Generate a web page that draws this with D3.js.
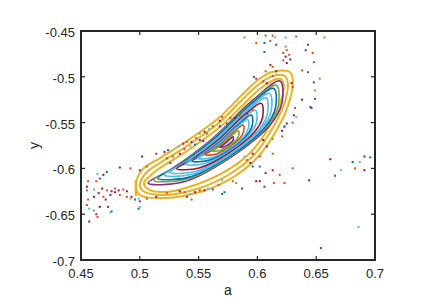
<!DOCTYPE html>
<html>
<head>
<meta charset="utf-8">
<script src="https://cdn.jsdelivr.net/npm/d3@7"></script>
<style>
  body { margin: 0; background: #fff; }
  svg { display: block; }
  text { font-family: "Liberation Sans", Arial, sans-serif; fill: #262626; }
</style>
</head>
<body>
<svg id="chart" width="436" height="308"></svg>
<script>
// axis ticks
const xTicks = [0.45, 0.5, 0.55, 0.6, 0.65, 0.7];
const yTicks = [-0.7, -0.65, -0.6, -0.55, -0.5, -0.45];

// MATLAB default colour order
const palette = {
  b: "#0072BD", o: "#D95319", y: "#EDB120", p: "#7E2F8E",
  g: "#77AC30", c: "#4DBEEE", r: "#A2142F"
};

// outer (yellow) orbit band
const yellowOuter = [[0.4967,-0.6192],[0.5001,-0.6290],[0.5214,-0.6323],[0.5511,-0.6258],[0.5783,-0.6105],[0.5996,-0.5887],[0.6149,-0.5614],[0.6259,-0.5319],[0.6302,-0.5057],[0.6276,-0.4948],[0.6123,-0.4948],[0.6004,-0.5035],[0.5851,-0.5221],[0.5681,-0.5439],[0.5401,-0.5701],[0.5171,-0.5887],[0.5018,-0.6017]];
const yellowMid = [[0.5001,-0.6181],[0.5027,-0.6247],[0.5214,-0.6290],[0.5511,-0.6214],[0.5766,-0.6061],[0.5970,-0.5854],[0.6115,-0.5592],[0.6225,-0.5308],[0.6259,-0.5079],[0.6234,-0.4991],[0.6132,-0.4991],[0.6004,-0.5090],[0.5851,-0.5275],[0.5681,-0.5494],[0.5401,-0.5756],[0.5171,-0.5941],[0.5052,-0.6050]];
const yellowInner = [[0.5035,-0.6159],[0.5069,-0.6225],[0.5222,-0.6258],[0.5494,-0.6170],[0.5749,-0.6017],[0.5945,-0.5821],[0.6089,-0.5570],[0.6191,-0.5297],[0.6225,-0.5100],[0.6199,-0.5024],[0.6140,-0.5035],[0.6021,-0.5133],[0.5868,-0.5319],[0.5681,-0.5548],[0.5401,-0.5810],[0.5171,-0.5996],[0.5086,-0.6083]];
const yellowBar = [[0.4967,-0.6127],[0.4967,-0.6302]];

// nested regular orbits, outside to inside
const ringPurple = [[0.507,-0.616],[0.5368,-0.6149],[0.575,-0.5898],[0.6107,-0.5526],[0.6209,-0.5286],[0.6192,-0.5046],[0.5963,-0.5253],[0.5623,-0.5668],[0.5283,-0.5996]];
const ringGreen = [[0.5118,-0.6129],[0.5394,-0.6119],[0.575,-0.5886],[0.6082,-0.554],[0.6177,-0.5317],[0.6161,-0.5093],[0.5948,-0.5286],[0.5631,-0.5672],[0.5315,-0.5977]];
const ringBlue = [[0.5152,-0.6108],[0.5413,-0.6098],[0.575,-0.5877],[0.6064,-0.555],[0.6154,-0.5338],[0.6139,-0.5127],[0.5937,-0.5309],[0.5637,-0.5675],[0.5338,-0.5963]];
const ringCyan1 = [[0.5206,-0.6073],[0.5444,-0.6064],[0.575,-0.5863],[0.6036,-0.5565],[0.6117,-0.5373],[0.6104,-0.5181],[0.592,-0.5347],[0.5648,-0.5679],[0.5376,-0.5941]];
const ringCyan2 = [[0.5254,-0.6042],[0.547,-0.6034],[0.575,-0.5851],[0.6011,-0.5579],[0.6085,-0.5404],[0.6073,-0.5229],[0.5905,-0.538],[0.5657,-0.5683],[0.5408,-0.5922]];
const ringRed = [[0.5315,-0.6003],[0.5505,-0.5996],[0.575,-0.5835],[0.5978,-0.5597],[0.6044,-0.5443],[0.6033,-0.529],[0.5886,-0.5422],[0.5668,-0.5688],[0.545,-0.5898]];
const ringCyan3 = [[0.539,-0.5955],[0.5547,-0.5949],[0.575,-0.5816],[0.5939,-0.5619],[0.5993,-0.5491],[0.5984,-0.5364],[0.5863,-0.5474],[0.5682,-0.5694],[0.5502,-0.5868]];
const ringBlue2 = [[0.5444,-0.592],[0.5578,-0.5915],[0.575,-0.5802],[0.5911,-0.5634],[0.5957,-0.5526],[0.5949,-0.5418],[0.5846,-0.5511],[0.5692,-0.5698],[0.5539,-0.5846]];
const ringCyan4 = [[0.5492,-0.5889],[0.5604,-0.5885],[0.575,-0.579],[0.5886,-0.5648],[0.5924,-0.5557],[0.5918,-0.5466],[0.5831,-0.5544],[0.5701,-0.5702],[0.5572,-0.5827]];
const ringOrange = [[0.5553,-0.585],[0.5639,-0.5847],[0.575,-0.5774],[0.5854,-0.5666],[0.5883,-0.5596],[0.5878,-0.5527],[0.5812,-0.5587],[0.5713,-0.5707],[0.5614,-0.5802]];
const ringGreen2 = [[0.5614,-0.581],[0.5673,-0.5808],[0.575,-0.5758],[0.5821,-0.5684],[0.5842,-0.5636],[0.5838,-0.5588],[0.5793,-0.5629],[0.5724,-0.5712],[0.5656,-0.5778]];
const ringPurple2 = [[0.5682,-0.5767],[0.5712,-0.5766],[0.575,-0.5741],[0.5786,-0.5703],[0.5796,-0.5679],[0.5794,-0.5655],[0.5771,-0.5676],[0.5737,-0.5717],[0.5703,-0.575]];

// scattered (chaotic) points: [a, y, colour]
const dots = [
  [0.589,-0.457,"g"],[0.599,-0.463,"o"],[0.606,-0.463,"b"],[0.607,-0.455,"o"],[0.613,-0.455,"o"],
  [0.615,-0.457,"c"],[0.624,-0.457,"c"],[0.633,-0.456,"o"],[0.657,-0.457,"g"],[0.611,-0.461,"o"],
  [0.616,-0.465,"p"],[0.624,-0.467,"g"],[0.625,-0.471,"o"],[0.622,-0.474,"o"],[0.624,-0.478,"r"],
  [0.627,-0.476,"o"],[0.628,-0.481,"r"],[0.622,-0.482,"o"],[0.625,-0.485,"r"],[0.641,-0.471,"p"],
  [0.643,-0.465,"p"],[0.647,-0.474,"o"],[0.648,-0.484,"o"],[0.606,-0.473,"b"],[0.597,-0.500,"p"],
  [0.599,-0.502,"p"],[0.638,-0.493,"o"],[0.643,-0.495,"b"],[0.648,-0.506,"b"],[0.653,-0.502,"g"],
  [0.649,-0.515,"g"],[0.649,-0.524,"p"],[0.645,-0.533,"b"],[0.646,-0.534,"p"],[0.638,-0.525,"r"],
  [0.632,-0.534,"o"],[0.631,-0.542,"r"],[0.633,-0.544,"c"],[0.630,-0.511,"o"],[0.629,-0.507,"r"],
  [0.611,-0.487,"r"],[0.613,-0.489,"o"],[0.607,-0.494,"o"],[0.613,-0.499,"o"],[0.605,-0.505,"o"],
  [0.608,-0.507,"r"],[0.616,-0.494,"r"],[0.630,-0.550,"o"],[0.625,-0.551,"r"],[0.623,-0.555,"o"],
  [0.621,-0.559,"r"],[0.623,-0.554,"b"],[0.621,-0.565,"o"],[0.613,-0.568,"g"],[0.596,-0.536,"o"],
  [0.591,-0.540,"r"],[0.585,-0.542,"o"],[0.581,-0.545,"r"],[0.577,-0.545,"o"],[0.574,-0.551,"p"],
  [0.568,-0.554,"r"],[0.570,-0.544,"o"],[0.568,-0.548,"r"],[0.562,-0.554,"o"],[0.559,-0.557,"c"],
  [0.555,-0.560,"r"],[0.557,-0.562,"o"],[0.551,-0.562,"g"],[0.551,-0.569,"p"],[0.548,-0.567,"o"],
  [0.547,-0.574,"b"],[0.544,-0.571,"r"],[0.543,-0.576,"c"],[0.540,-0.571,"o"],[0.537,-0.573,"p"],
  [0.533,-0.576,"c"],[0.524,-0.580,"b"],[0.521,-0.582,"r"],[0.514,-0.584,"p"],[0.502,-0.587,"r"],
  [0.523,-0.589,"o"],[0.526,-0.594,"p"],[0.528,-0.587,"o"],[0.534,-0.584,"r"],[0.538,-0.579,"o"],
  [0.554,-0.570,"r"],[0.492,-0.600,"o"],[0.483,-0.599,"r"],[0.472,-0.604,"b"],[0.464,-0.606,"c"],
  [0.469,-0.607,"r"],[0.466,-0.611,"b"],[0.456,-0.614,"o"],[0.463,-0.614,"o"],[0.455,-0.620,"r"],
  [0.455,-0.624,"o"],[0.461,-0.623,"c"],[0.468,-0.622,"r"],[0.472,-0.624,"o"],[0.476,-0.625,"r"],
  [0.479,-0.622,"o"],[0.482,-0.624,"r"],[0.486,-0.623,"o"],[0.489,-0.625,"r"],[0.475,-0.629,"p"],
  [0.469,-0.631,"o"],[0.465,-0.627,"r"],[0.461,-0.631,"r"],[0.456,-0.634,"o"],[0.455,-0.640,"o"],
  [0.457,-0.644,"c"],[0.461,-0.646,"g"],[0.466,-0.642,"r"],[0.463,-0.650,"p"],[0.464,-0.653,"o"],
  [0.473,-0.642,"p"],[0.476,-0.647,"b"],[0.475,-0.648,"c"],[0.457,-0.658,"r"],[0.499,-0.644,"b"],
  [0.500,-0.642,"c"],[0.489,-0.631,"o"],[0.492,-0.633,"y"],[0.493,-0.631,"r"],[0.496,-0.634,"b"],
  [0.499,-0.633,"c"],[0.500,-0.636,"p"],[0.483,-0.629,"o"],[0.479,-0.626,"r"],[0.471,-0.634,"r"],
  [0.500,-0.602,"p"],[0.506,-0.598,"o"],[0.506,-0.633,"o"],[0.514,-0.631,"r"],[0.523,-0.627,"o"],
  [0.534,-0.625,"r"],[0.538,-0.626,"o"],[0.543,-0.628,"c"],[0.547,-0.626,"r"],[0.551,-0.624,"o"],
  [0.555,-0.624,"r"],[0.558,-0.622,"c"],[0.562,-0.623,"p"],[0.567,-0.618,"o"],[0.570,-0.613,"c"],
  [0.572,-0.626,"b"],[0.570,-0.628,"b"],[0.579,-0.614,"o"],[0.582,-0.616,"g"],[0.587,-0.622,"p"],
  [0.596,-0.598,"b"],[0.602,-0.598,"b"],[0.630,-0.600,"o"],[0.607,-0.605,"p"],[0.613,-0.602,"r"],
  [0.619,-0.607,"o"],[0.599,-0.614,"r"],[0.602,-0.614,"r"],[0.606,-0.620,"p"],[0.614,-0.616,"o"],
  [0.623,-0.616,"o"],[0.544,-0.634,"o"],[0.540,-0.631,"r"],[0.591,-0.591,"o"],[0.596,-0.584,"r"],
  [0.602,-0.587,"o"],[0.608,-0.576,"r"],[0.613,-0.584,"o"],[0.605,-0.569,"r"],[0.589,-0.587,"c"],
  [0.594,-0.594,"r"],[0.662,-0.590,"r"],[0.681,-0.593,"b"],[0.687,-0.593,"c"],[0.683,-0.600,"o"],
  [0.666,-0.608,"b"],[0.671,-0.602,"c"],[0.691,-0.587,"r"],[0.696,-0.588,"b"],[0.691,-0.602,"r"],
  [0.644,-0.613,"r"],[0.686,-0.664,"c"],[0.654,-0.687,"p"]
];

const rings = [
  { pts: yellowOuter, col: "y" }, { pts: yellowMid, col: "y" }, { pts: yellowInner, col: "y" },
  { pts: ringPurple, col: "p" }, { pts: ringGreen, col: "g" }, { pts: ringBlue, col: "b" },
  { pts: ringCyan1, col: "c" }, { pts: ringCyan2, col: "c" }, { pts: ringRed, col: "r" },
  { pts: ringCyan3, col: "c" }, { pts: ringBlue2, col: "b" }, { pts: ringCyan4, col: "c" },
  { pts: ringOrange, col: "o" }, { pts: ringGreen2, col: "g" }, { pts: ringPurple2, col: "p" }
];

const svg = d3.select("#chart");
const x = d3.scaleLinear().domain([0.45, 0.7]).range([81, 375]);
const y = d3.scaleLinear().domain([-0.7, -0.45]).range([260, 31]);

svg.append("clipPath").attr("id", "plot")
  .append("rect").attr("x", 81).attr("y", 31).attr("width", 294).attr("height", 229);

const plot = svg.append("g").attr("clip-path", "url(#plot)");

const ringLine = d3.line()
  .x((d) => x(d[0]))
  .y((d) => y(d[1]))
  .curve(d3.curveCatmullRomClosed.alpha(0.5));

plot.selectAll("path.ring")
  .data(rings)
  .join("path")
  .attr("class", "ring")
  .attr("d", (d) => ringLine(d.pts))
  .attr("fill", "none")
  .attr("stroke", (d) => palette[d.col])
  .attr("stroke-width", (d) => d.col === "y" ? 2 : 1.6);

plot.append("path")
  .attr("d", d3.line().x((d) => x(d[0])).y((d) => y(d[1]))(yellowBar))
  .attr("stroke", palette.y)
  .attr("stroke-width", 2.5);

plot.selectAll("rect.dot")
  .data(dots)
  .join("rect")
  .attr("class", "dot")
  .attr("x", (d) => x(d[0]) - 1)
  .attr("y", (d) => y(d[1]) - 1)
  .attr("width", 2)
  .attr("height", 2)
  .attr("fill", (d) => palette[d[2]]);

// axes: MATLAB box with inward ticks on all four sides
const fmt = (v) => String(+v.toFixed(2));
const tickLen = 4;

const axes = svg.append("g");
axes.selectAll("line.xt")
  .data(xTicks)
  .join("line")
  .attr("x1", (d) => x(d)).attr("x2", (d) => x(d))
  .attr("y1", 260).attr("y2", 260 - tickLen)
  .attr("stroke", "#262626").attr("stroke-width", 1.2);
axes.selectAll("line.xt2")
  .data(xTicks)
  .join("line")
  .attr("x1", (d) => x(d)).attr("x2", (d) => x(d))
  .attr("y1", 31).attr("y2", 31 + tickLen)
  .attr("stroke", "#262626").attr("stroke-width", 1.2);
axes.selectAll("line.yt")
  .data(yTicks)
  .join("line")
  .attr("y1", (d) => y(d)).attr("y2", (d) => y(d))
  .attr("x1", 81).attr("x2", 81 + tickLen)
  .attr("stroke", "#262626").attr("stroke-width", 1.2);
axes.selectAll("line.yt2")
  .data(yTicks)
  .join("line")
  .attr("y1", (d) => y(d)).attr("y2", (d) => y(d))
  .attr("x1", 375).attr("x2", 375 - tickLen)
  .attr("stroke", "#262626").attr("stroke-width", 1.2);

axes.append("rect")
  .attr("x", 81).attr("y", 31).attr("width", 294).attr("height", 229)
  .attr("fill", "none").attr("stroke", "#262626").attr("stroke-width", 2);

axes.selectAll("text.xl")
  .data(xTicks)
  .join("text")
  .attr("x", (d) => x(d))
  .attr("y", 278)
  .attr("text-anchor", "middle")
  .attr("font-size", 13)
  .text(fmt);

axes.selectAll("text.yl")
  .data(yTicks)
  .join("text")
  .attr("x", 75)
  .attr("y", (d) => y(d) + 6)
  .attr("text-anchor", "end")
  .attr("font-size", 13)
  .text(fmt);

svg.append("text")
  .attr("x", 228).attr("y", 295)
  .attr("text-anchor", "middle")
  .attr("font-size", 14)
  .text("a");

svg.append("text")
  .attr("transform", "translate(39,145.5) rotate(-90)")
  .attr("text-anchor", "middle")
  .attr("font-size", 14)
  .text("y");
</script>
</body>
</html>
